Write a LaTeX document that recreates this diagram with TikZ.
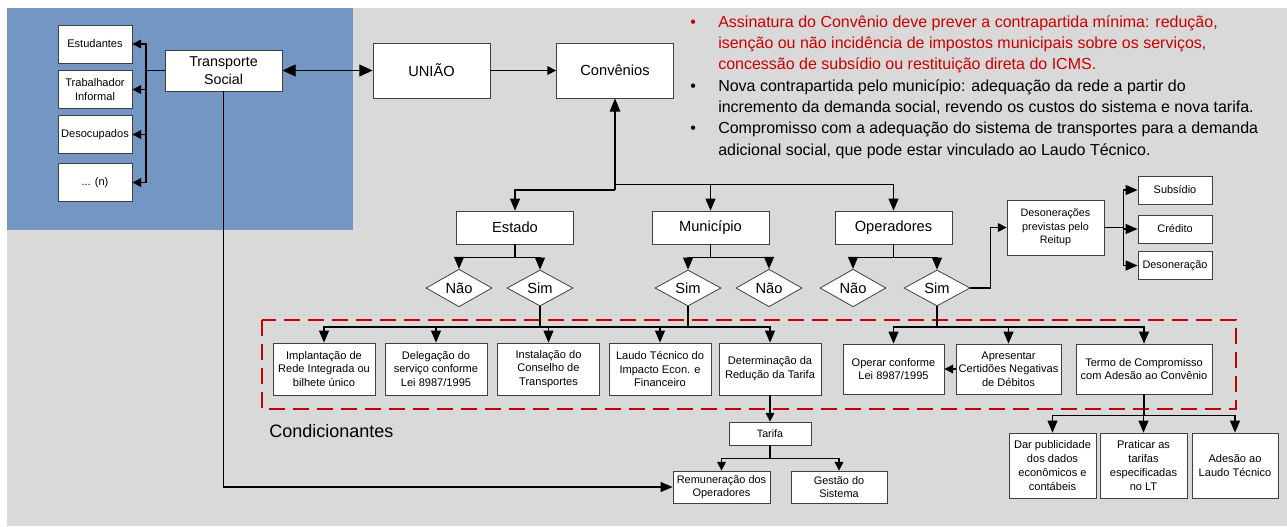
\documentclass[tikz,border=0pt]{standalone}
\usepackage{fontspec}
\setmainfont{Liberation Sans}
\usetikzlibrary{arrows.meta,shapes.geometric,calc}
\tikzset{>={Triangle[length=6.5pt,width=6.5pt]}}
\definecolor{panelgray}{RGB}{217,217,217}
\definecolor{socialblue}{RGB}{116,150,194}
\definecolor{noteRed}{RGB}{204,0,0}
\definecolor{frameRed}{RGB}{196,0,0}

\begin{document}
\begin{tikzpicture}[x=0.75pt,y=-0.75pt,
    box/.style={draw=black!75, fill=white, line width=0.6pt, align=center, inner sep=1pt},
    listbox/.style={box, minimum width=55.5pt, minimum height=28.5pt, font=\fontsize{8.3}{10}\selectfont},
    tsbox/.style={box, minimum width=87.75pt, minimum height=30.75pt, font=\fontsize{10.7}{13.5}\selectfont},
    mainbox/.style={box, minimum width=87.75pt, minimum height=41.25pt, font=\fontsize{11}{13}\selectfont},
    branchbox/.style={box, minimum width=87.75pt, minimum height=24.75pt, font=\fontsize{11}{13}\selectfont},
    decision/.style={diamond, draw=black!75, fill=white, line width=0.6pt, inner sep=0pt,
        minimum width=49.5pt, minimum height=27pt, font=\fontsize{11}{13}\selectfont},
    condbox/.style={box, minimum width=76.5pt, minimum height=39pt, font=\fontsize{8.3}{10.3}\selectfont},
    subbox/.style={box, minimum width=55.5pt, minimum height=21pt, font=\fontsize{8.2}{10}\selectfont},
    tinybox/.style={box, minimum height=24pt, font=\fontsize{8.2}{10}\selectfont},
    link/.style={line width=0.8pt, draw=black},
    bigtip/.style={-{Triangle[length=9pt,width=7.5pt]}}
]
\useasboundingbox (0,0) rectangle (1287,526);

% Background panels
\fill[panelgray] (7,8) rectangle (1287,526);
\fill[socialblue] (7,8) rectangle (353,230);

% Notes
\node[anchor=north west, inner sep=0pt, font=\fontsize{12}{16}\selectfont] (notes) at (690,12) {%
  \begin{tabular}{@{}p{21pt}@{}l@{}}
  \textcolor{noteRed}{\textbullet} & \textcolor{noteRed}{Assinatura do Convênio deve prever a contrapartida mínima: redução,}\\
   & \textcolor{noteRed}{isenção ou não incidência de impostos municipais sobre os serviços,}\\
   & \textcolor{noteRed}{concessão de subsídio ou restituição direta do ICMS.}\\
  \textbullet & Nova contrapartida pelo município: adequação da rede a partir do\\
   & incremento da demanda social, revendo os custos do sistema e nova tarifa.\\
  \textbullet & Compromisso com a adequação do sistema de transportes para a demanda\\
   & adicional social, que pode estar vinculado ao Laudo Técnico.
  \end{tabular}};

% Transporte Social
\node[listbox] (est) at (95,44) {Estudantes};
\node[listbox] (trab) at (95,89.5) {Trabalhador\\Informal};
\node[listbox] (desoc) at (95,134.5) {Desocupados};
\node[listbox] (outros) at (95,182.5) {... (n)};
\node[tsbox] (ts) at (223.5,70.5) {Transporte\\Social};
\coordinate (tsbus) at (146,70.5);

% Top row
\node[mainbox] (uniao) at (431.5,70.5) {UNIÃO};
\node[mainbox] (conv) at (615,70.5) {Convênios};

% Branches
\node[branchbox] (estado) at (515,227.5) {Estado};
\node[branchbox] (mun) at (710.5,227.5) {Município};
\node[branchbox] (oper) at (893.5,227.5) {Operadores};
\coordinate (cbusA) at (615,190);
\coordinate (cbusB) at (615,184.5);

% Decisions
\node[decision] (enao) at (459,288) {Não};
\node[decision] (esim) at (540,288) {Sim};
\node[decision] (msim) at (688,288) {Sim};
\node[decision] (mnao) at (769,288) {Não};
\node[decision] (onao) at (853,288) {Não};
\node[decision] (osim) at (937,288) {Sim};

% Desoneracoes
\node[box, minimum width=72.75pt, minimum height=41.25pt, font=\fontsize{8.1}{10.3}\selectfont]
    (deson) at (1055.5,227.5) {Desonerações\\previstas pelo\\Reitup};
\node[subbox] (subs) at (1175,190) {Subsídio};
\node[subbox] (cred) at (1175,229) {Crédito};
\node[subbox] (desn) at (1175,265.5) {Desoneração};

% Condicionantes
\draw[frameRed, line width=1.8pt, dash pattern=on 12pt off 6pt] (262,320) rectangle (1236,409);
\node[anchor=base west, inner sep=0pt, font=\fontsize{13.5}{16}\selectfont] (condlabel) at (269,437) {Condicionantes};
\coordinate (pbus) at (540,327);
\coordinate (obus) at (937,327);
\node[condbox] (impl) at (324,369) {Implantação de\\Rede Integrada ou\\bilhete único};
\node[condbox] (deleg) at (436,369) {Delegação do\\serviço conforme\\Lei 8987/1995};
\node[condbox] (inst) at (548.5,369) {Instalação do\\Conselho de\\Transportes};
\node[condbox] (laudo) at (660,369) {Laudo Técnico do\\Impacto Econ. e\\Financeiro};
\node[condbox] (determ) at (770,369) {Determinação da\\Redução da Tarifa};
\node[condbox, minimum width=75.75pt, minimum height=37.5pt] (operar) at (893.5,369) {Operar conforme\\Lei 8987/1995};
\node[condbox, minimum width=78.75pt, minimum height=37.5pt] (apres) at (1008.5,369) {Apresentar\\Certidões Negativas\\de Débitos};
\node[condbox, minimum width=102pt, minimum height=37.5pt] (termo) at (1144,369) {Termo de Compromisso\\com Adesão ao Convênio};

% Termo de Compromisso
\node[condbox, minimum width=65.25pt, minimum height=48.75pt] (dar) at (1052.5,465.5) {Dar publicidade\\dos dados\\econômicos e\\contábeis};
\node[condbox, minimum width=65.25pt, minimum height=48.75pt] (prat) at (1143.5,465.5) {Praticar as\\tarifas\\especificadas\\no LT};
\node[condbox, minimum width=64.5pt, minimum height=48.75pt] (ades) at (1235,465.5) {Adesão ao\\Laudo Técnico};

% Tarifa
\node[box, minimum width=61.5pt, minimum height=17.25pt, font=\fontsize{8}{10}\selectfont] (tarifa) at (770,433.5) {Tarifa};
\node[tinybox, minimum width=72.75pt] (remun) at (721.5,487) {Remuneração dos\\Operadores};
\node[tinybox, minimum width=72pt] (gest) at (839,487) {Gestão do\\Sistema};

% Connectors
\draw[link] (ts.west) -- (tsbus);
\foreach \n in {est,trab,desoc,outros}
  \draw[link,->] (tsbus) |- (\n.east);
\draw[link,{Triangle[length=10pt,width=9pt]}-{Triangle[length=10pt,width=9pt]}] (ts.east) -- (uniao.west);
\draw[link,->] (uniao.east) -- (conv.west);
\draw[link,{Triangle[length=10pt,width=8pt]}-] (conv.south) -- (cbusA);
\draw[link,bigtip] (cbusA) -| (estado.north);
\draw[link,bigtip] (cbusB) -| (oper.north);
\draw[link,bigtip] (mun.north |- cbusB) -- (mun.north);
\foreach \b/\d in {estado/enao,estado/esim,mun/msim,mun/mnao,oper/onao,oper/osim}
  \draw[link,bigtip] (\b.south) -- ++(0,13) -| (\d.north);
\draw[link] (esim.south) -- (pbus);
\draw[link] (msim.south) -- (msim.south |- pbus);
\foreach \c in {impl,deleg,inst,laudo,determ}
  \draw[link,bigtip] (pbus) -| (\c.north);
\draw[link] (osim.south) -- (obus);
\foreach \c in {operar,apres,termo}
  \draw[link,bigtip] (obus) -| (\c.north);
\draw[link,->] (apres.west) -- (operar.east);
\draw[link,->] (osim.east) -- ++(20,0) |- (deson.west);
\foreach \s in {subs,cred,desn}
  \draw[link,bigtip] (deson.east) -- ++(19,0) |- (\s.west);
\foreach \t in {dar,prat,ades}
  \draw[link,bigtip] (termo.south) -- ++(0,21) -| (\t.north);
\draw[link,->] (determ.south) -- (tarifa.north);
\foreach \t in {remun,gest}
  \draw[link,->] (tarifa.south) -- ++(0,13) -| (\t.north);
\draw[link,bigtip] (ts.south) |- (remun.west);

\end{tikzpicture}
\end{document}
